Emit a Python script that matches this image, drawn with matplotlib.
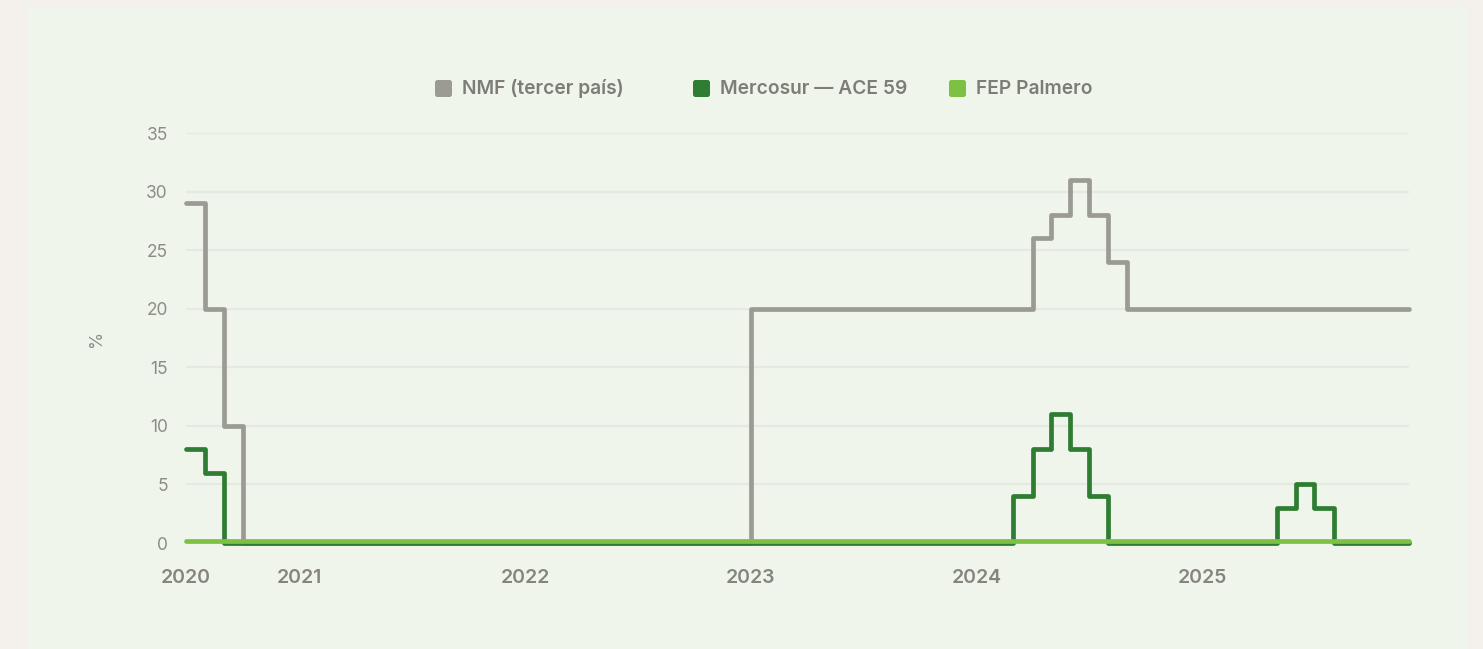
import numpy as np
import pandas as pd
import matplotlib
matplotlib.use('Agg')
import matplotlib.pyplot as plt
import matplotlib.transforms as mtransforms
from matplotlib.patches import Rectangle, FancyBboxPatch

# Cambios de arancel (mes en que cambia el valor, valor en %)
nmf_months = ['2020-07', '2020-08', '2020-09', '2020-10', '2023-01', '2024-04', '2024-05',
              '2024-06', '2024-07', '2024-08', '2024-09', '2025-12']
nmf_values = [29, 20, 10, 0, 20, 26, 28, 31, 28, 24, 20, 20]

mercosur_months = ['2020-07', '2020-08', '2020-09', '2024-03', '2024-04', '2024-05', '2024-06',
                   '2024-07', '2024-08', '2025-05', '2025-06', '2025-07', '2025-08', '2025-12']
mercosur_values = [8, 6, 0, 4, 8, 11, 8, 4, 0, 3, 5, 3, 0, 0]

fep_months = ['2020-07', '2025-12']
fep_values = [0, 0]

series_names = ['NMF (tercer país)', 'Mercosur — ACE 59', 'FEP Palmero']
series_colors = ['#9b9b93', '#2e7d32', '#7cc143']

tick_months = ['2020-07', '2021-01', '2022-01', '2023-01', '2024-01', '2025-01']
tick_labels = ['2020', '2021', '2022', '2023', '2024', '2025']

plt.rcParams['font.family'] = ['Inter', 'DejaVu Sans']

W, H = 1483, 649
fig = plt.figure(figsize=(W / 100, H / 100), dpi=100)
fig.patch.set_facecolor('#f4f0ec')
# panel de fondo
fig.add_artist(Rectangle((27 / W, 0), 1440 / W, 1 - 7 / H, transform=fig.transFigure,
                         facecolor='#f0f5ec', edgecolor='none', zorder=-5))

ax = fig.add_axes([186 / W, 1 - 543 / H, 1223 / W, 410 / H])
ax.set_facecolor('none')
ax.set_zorder(2)

def to_dates(months):
    return pd.to_datetime(months)

lw = 3.4
ax.plot(to_dates(nmf_months), nmf_values, drawstyle='steps-post', color=series_colors[0],
        lw=lw, solid_joinstyle='round', solid_capstyle='round', clip_on=False, zorder=3)
ax.plot(to_dates(mercosur_months), mercosur_values, drawstyle='steps-post', color=series_colors[1],
        lw=lw, solid_joinstyle='round', solid_capstyle='round', clip_on=False, zorder=4)
# la linea FEP se dibuja un poco por encima para que se vea la de Mercosur debajo
shift = mtransforms.offset_copy(ax.transData, fig=fig, x=0, y=2, units='dots')
ax.plot(to_dates(fep_months), fep_values, drawstyle='steps-post', color=series_colors[2],
        lw=lw, solid_capstyle='round', clip_on=False, zorder=5, transform=shift)

ax.set_xlim(pd.Timestamp('2020-07-01'), pd.Timestamp('2025-12-01'))
ax.set_ylim(0, 35)
ax.set_yticks(np.arange(0, 36, 5))
ax.set_xticks(to_dates(tick_months))
ax.set_xticklabels(tick_labels)

ax.grid(axis='y', color='#e6e9e1', lw=1.6, zorder=1)
ax.grid(axis='x', visible=False)
for s in ax.spines.values():
    s.set_visible(False)
ax.tick_params(axis='y', length=0, pad=13, labelsize=12.5, labelcolor='#8c8c85')
ax.tick_params(axis='x', length=0, pad=19, labelsize=14, labelcolor='#85857e')
for lab in ax.get_xticklabels():
    lab.set_fontweight('semibold')

ax.set_ylabel('%', fontsize=12.5, color='#8c8c85', labelpad=30)

# leyenda manual: cuadrados redondeados con columnas de ancho fijo
legend_x = [435, 693, 949]
for x0, name, c in zip(legend_x, series_names, series_colors):
    sq = FancyBboxPatch((x0 / 100, (H - 97) / 100), 0.17, 0.17,
                        boxstyle='round,pad=0,rounding_size=0.025',
                        transform=fig.dpi_scale_trans, facecolor=c, edgecolor='none')
    fig.add_artist(sq)
    fig.text((x0 + 27) / W, 1 - 88.5 / H, name, fontsize=13.8, fontweight='semibold',
             color='#7d7d76', va='center', ha='left')

fig.savefig('out.png', dpi=100, facecolor=fig.get_facecolor())
